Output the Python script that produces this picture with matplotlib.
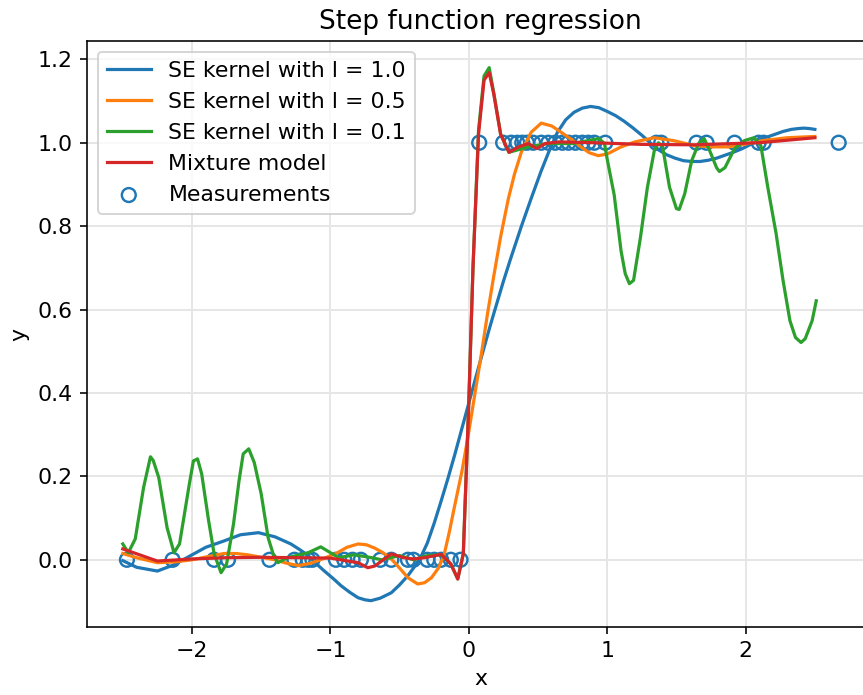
import matplotlib
matplotlib.use("Agg")
from matplotlib import pyplot as plt

plt.rcParams["font.size"] = 11

# measurements (step function samples)
meas_x = [-2.47, -2.14, -1.84, -1.74, -1.44, -1.26, -1.20, -1.16, -1.13,
          -0.96, -0.90, -0.84, -0.78, -0.64, -0.56, -0.44, -0.40, -0.30,
          -0.25, -0.20, -0.13, -0.06,
          0.075, 0.248, 0.306, 0.35, 0.386, 0.42, 0.465, 0.523, 0.574,
          0.624, 0.675, 0.72, 0.77, 0.82, 0.863, 0.907, 0.986, 1.355,
          1.39, 1.645, 1.717, 1.92, 2.094, 2.13, 2.672]
meas_y = [0.0] * 22 + [1.0] * 25

# SE kernel, l = 1.0
se10_x = [-2.5, -2.4, -2.25, -2.13, -2.01, -1.9, -1.77, -1.65, -1.52, -1.4,
          -1.286, -1.22, -1.16, -1.1, -1.047, -0.98, -0.924, -0.86, -0.80, -0.75,
          -0.707, -0.64, -0.56, -0.5, -0.44, -0.4, -0.345, -0.3, -0.25, -0.2,
          -0.15, -0.1, -0.05, 0.0, 0.05, 0.1, 0.15, 0.18, 0.25, 0.3,
          0.38, 0.45, 0.52, 0.58, 0.64, 0.7, 0.76, 0.82, 0.88, 0.94,
          1.0, 1.06, 1.12, 1.18, 1.25, 1.31, 1.37, 1.43, 1.49, 1.55,
          1.61, 1.67, 1.73, 1.79, 1.85, 1.91, 1.97, 2.03, 2.09, 2.15,
          2.21, 2.27, 2.33, 2.38, 2.42, 2.46, 2.5]
se10_y = [-0.002, -0.018, -0.027, -0.012, 0.01, 0.03, 0.045, 0.06, 0.065, 0.055,
          0.038, 0.024, 0.01, -0.01, -0.026, -0.045, -0.062, -0.078, -0.091, -0.096,
          -0.098, -0.092, -0.079, -0.06, -0.038, -0.02, 0.008, 0.04, 0.088, 0.141,
          0.196, 0.254, 0.315, 0.376, 0.437, 0.497, 0.556, 0.59, 0.668, 0.72,
          0.80, 0.866, 0.93, 0.98, 1.025, 1.055, 1.073, 1.083, 1.087, 1.084,
          1.075, 1.065, 1.052, 1.037, 1.018, 1.0, 0.983, 0.971, 0.963, 0.957,
          0.955, 0.955, 0.958, 0.963, 0.97, 0.977, 0.985, 0.995, 1.005, 1.013,
          1.02, 1.027, 1.032, 1.034, 1.035, 1.034, 1.032]

# SE kernel, l = 0.5
se05_x = [-2.5, -2.4, -2.25, -2.12, -2.0, -1.88, -1.77, -1.68, -1.6, -1.5,
          -1.4, -1.32, -1.23, -1.14, -1.05, -0.96, -0.88, -0.8, -0.74, -0.68,
          -0.62, -0.56, -0.5, -0.44, -0.37, -0.32, -0.27, -0.22, -0.18, -0.14,
          -0.107, -0.05, -0.005, 0.04, 0.089, 0.135, 0.18, 0.23, 0.285, 0.33,
          0.38, 0.45, 0.523, 0.6, 0.667, 0.74, 0.81, 0.87, 0.935, 1.0,
          1.1, 1.2, 1.34, 1.48, 1.63, 1.75, 1.88, 2.0, 2.12, 2.3, 2.5]
se05_y = [0.015, 0.005, -0.007, -0.005, 0.0, 0.008, 0.015, 0.015, 0.012, 0.006,
          0.0, -0.008, -0.014, -0.008, 0.003, 0.015, 0.03, 0.038, 0.036, 0.028,
          0.017, 0.002, -0.02, -0.043, -0.058, -0.055, -0.043, -0.02, 0.01, 0.068,
          0.122, 0.212, 0.297, 0.39, 0.49, 0.59, 0.68, 0.775, 0.865, 0.925,
          0.978, 1.025, 1.047, 1.04, 1.025, 1.008, 0.99, 0.976, 0.969, 0.973,
          0.99, 1.002, 1.012, 1.005, 0.993, 0.99, 0.99, 0.997, 1.005, 1.012, 1.015]

# SE kernel, l = 0.1
se01_x = [-2.5, -2.46, -2.41, -2.35, -2.30, -2.28, -2.24, -2.18, -2.13, -2.09,
          -2.02, -1.99, -1.96, -1.93, -1.88, -1.84, -1.79, -1.75, -1.70, -1.66,
          -1.63, -1.59, -1.55, -1.50, -1.45, -1.41, -1.38, -1.31, -1.16, -1.07,
          -1.0, -0.94, -0.83, -0.7, -0.63, -0.5, -0.4, -0.3, -0.2, -0.13,
          -0.08, -0.04, 0.0, 0.03, 0.07, 0.11, 0.147, 0.18, 0.23, 0.29,
          0.43, 0.57, 0.75, 0.86, 0.94, 0.98, 1.0, 1.05, 1.10, 1.13,
          1.16, 1.19, 1.24, 1.29, 1.34, 1.37, 1.40, 1.45, 1.50, 1.52,
          1.56, 1.61, 1.66, 1.70, 1.74, 1.79, 1.81, 1.85, 1.92, 1.99,
          2.06, 2.11, 2.16, 2.22, 2.27, 2.32, 2.36, 2.40, 2.43, 2.48, 2.51]
se01_y = [0.038, 0.017, 0.05, 0.173, 0.247, 0.238, 0.197, 0.077, 0.017, 0.038,
          0.18, 0.237, 0.242, 0.206, 0.094, 0.014, -0.031, -0.01, 0.086, 0.19,
          0.254, 0.266, 0.233, 0.158, 0.053, 0.01, -0.007, 0.005, 0.017, 0.031,
          0.017, 0.005, 0.012, 0.005, 0.0, 0.01, 0.0, 0.01, 0.012, -0.01,
          -0.046, 0.014, 0.38, 0.70, 1.03, 1.16, 1.18, 1.12, 1.02, 0.977,
          0.99, 0.998, 0.998, 1.005, 1.01, 0.998, 0.96, 0.875, 0.74, 0.686,
          0.662, 0.67, 0.773, 0.893, 0.981, 1.0, 0.99, 0.893, 0.842, 0.84,
          0.878, 0.957, 0.998, 1.01, 0.981, 0.94, 0.931, 0.94, 0.986, 1.005,
          1.012, 0.993, 0.893, 0.782, 0.67, 0.573, 0.533, 0.521, 0.53, 0.573, 0.621]

# mixture model
mix_x = [-2.5, -2.25, -2.0, -1.75, -1.5, -1.0, -0.8, -0.73, -0.68, -0.56,
         -0.47, -0.4, -0.32, -0.2, -0.13, -0.08, -0.04, 0.0, 0.03, 0.07,
         0.11, 0.147, 0.18, 0.23, 0.29, 0.36, 0.43, 0.49, 0.55, 0.65,
         0.9, 1.25, 1.63, 2.1, 2.5]
mix_y = [0.026, -0.003, 0.002, 0.005, 0.006, 0.004, -0.007, -0.019, -0.015, 0.014,
         0.005, 0.002, 0.005, 0.013, -0.01, -0.046, 0.014, 0.38, 0.70, 1.02,
         1.15, 1.168, 1.117, 1.02, 0.977, 0.99, 0.998, 0.986, 0.998, 1.002,
         1.0, 0.996, 0.995, 1.0, 1.012]

fig = plt.figure(figsize=(863 / 144, 695 / 144), dpi=144)
# right edge of the axes sits just past the figure edge, like the reference crop
ax = fig.add_axes([0.1008, 0.0974, 0.9125, 0.8436])

ax.plot(se10_x, se10_y, lw=1.6, label="SE kernel with l = 1.0")
ax.plot(se05_x, se05_y, lw=1.6, label="SE kernel with l = 0.5")
ax.plot(se01_x, se01_y, lw=1.6, label="SE kernel with l = 0.1")
ax.plot(mix_x, mix_y, lw=1.6, label="Mixture model")
ax.scatter(meas_x, meas_y, s=48, facecolors="none", edgecolors="C0",
           linewidths=1.2, label="Measurements", zorder=1)

ax.grid(True, color="0.9", linewidth=1.0)
ax.set_axisbelow(True)
ax.set_title("Step function regression")
ax.set_xlabel("x")
ax.set_ylabel("y")
ax.legend(loc="upper left")

fig.savefig("out.png", dpi=144)
